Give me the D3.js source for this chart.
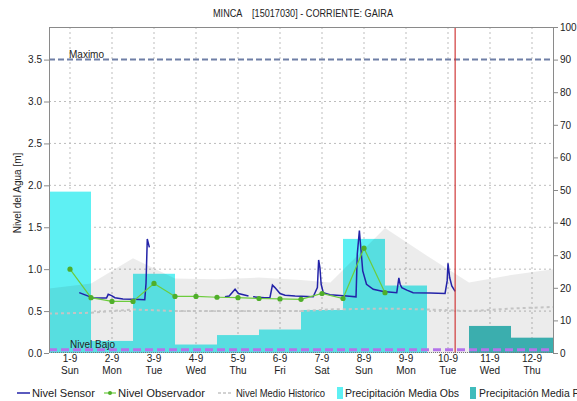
<!DOCTYPE html>
<html><head><meta charset="utf-8">
<script src="https://cdn.jsdelivr.net/npm/d3@7"></script>
<style>
html,body{margin:0;padding:0;background:#fff;}
svg{display:block;font-family:"Liberation Sans",Arial,sans-serif;}
</style></head>
<body><svg id="c" width="577" height="401"></svg>
<script>
// ---- data ----
const dayLabels = ["1-9","2-9","3-9","4-9","5-9","6-9","7-9","8-9","9-9","10-9","11-9","12-9"];
const weekdayLabels = ["Sun","Mon","Tue","Wed","Thu","Fri","Sat","Sun","Mon","Tue","Wed","Thu"];
const leftTicks = [0,0.5,1.0,1.5,2.0,2.5,3.0,3.5];
const rightTicks = [0,10,20,30,40,50,60,70,80,90,100];
// precipitation (mm) per day: observed days 1..10, forecast days 11..12
const precipObsDays = [1,2,3,4,5,6,7,8,9,10];
const precipObs = [49.5,3.7,24.3,2.6,5.5,7.2,13.2,35.0,20.7,0];
const precipFcstDays = [11,12];
const precipFcst = [8.3,4.7];
// sensor level (m); null = gap
const sensorTime = [1.22,1.48,1.55,1.87,1.91,1.99,2.07,2.26,2.51,2.78,2.81,2.84,2.86,2.89,null,
  4.69,4.79,4.93,5.01,5.25,null,5.36,5.64,5.76,5.82,5.88,6.0,6.12,6.36,6.79,6.89,6.92,6.95,6.98,7.03,7.19,7.59,7.81,7.84,7.89,7.92,7.97,8.06,8.22,8.46,8.78,8.83,8.86,8.90,9.02,9.17,9.57,9.93,9.98,10.0,10.04,10.09,10.17];
const sensorLevel = [0.72,0.67,0.655,0.655,0.70,0.685,0.66,0.645,0.64,0.635,0.83,1.36,1.32,1.26,null,
  0.67,0.68,0.76,0.71,0.68,null,0.67,0.66,0.66,0.81,0.78,0.71,0.69,0.68,0.67,0.78,1.11,1.02,0.82,0.72,0.695,0.68,0.67,1.18,1.46,1.28,0.98,0.82,0.76,0.735,0.72,0.895,0.82,0.78,0.75,0.72,0.715,0.71,0.86,1.07,0.90,0.80,0.735];
// observer level (m)
const obsTime = [1,1.5,2,2.5,3,3.5,4,4.5,5,5.5,6,6.5,7,7.5,8,8.5];
const obsLevel = [1.00,0.66,0.615,0.615,0.83,0.675,0.675,0.665,0.66,0.65,0.645,0.64,0.71,0.65,1.25,0.72];
// historic
const histTime = [0.5,1.5,2.5,3.5,4.5,5.5,6.5,7.2,8.5,9.5,10.5,11.5,12.5];
const histMax = [0.77,0.83,1.13,0.89,0.88,0.90,0.87,0.84,1.49,1.16,0.84,0.93,1.0];
const histMean = [0.47,0.48,0.52,0.50,0.50,0.50,0.50,0.52,0.53,0.52,0.50,0.53,0.55];
const levelMax = 3.5, levelLow = 0.04, nowDay = 10.17;
const title = "MINCA    [15017030] - CORRIENTE: GAIRA";

// ---- chart ----
const svg = d3.select("#c");
const L=49, R=553, T=27, B=353;
const x = d3.scaleLinear().domain([0.5,12.5]).range([L,R]);
const yL = d3.scaleLinear().domain([0, levelMax/0.9]).range([B,T]);
const yR = d3.scaleLinear().domain([0,100]).range([B,T]);

svg.append("defs").append("clipPath").attr("id","clip").append("rect")
  .attr("x",L).attr("y",T).attr("width",R-L).attr("height",B-T);
const g = svg.append("g").attr("clip-path","url(#clip)");

// gridlines
g.selectAll(".hg").data(leftTicks.filter(d=>d>0 && d<levelMax)).join("line")
  .attr("x1",L).attr("x2",R).attr("y1",d=>yL(d)).attr("y2",d=>yL(d))
  .attr("stroke","#bdbdbd").attr("stroke-dasharray","2,3");
g.selectAll(".vg").data(d3.range(1,13)).join("line")
  .attr("x1",d=>x(d)).attr("x2",d=>x(d)).attr("y1",T).attr("y2",B)
  .attr("stroke","#bdbdbd").attr("stroke-dasharray","2,3");

// bars
g.selectAll(".pb").data(precipObsDays.map((d,i)=>({d,v:precipObs[i]}))).join("rect")
  .attr("x",d=>x(d.d-0.5)).attr("width",d=>x(d.d+0.5)-x(d.d-0.5))
  .attr("y",d=>yR(d.v)).attr("height",d=>B-yR(d.v)).attr("fill","#5ef0f3");
g.selectAll(".pf").data(precipFcstDays.map((d,i)=>({d,v:precipFcst[i]}))).join("rect")
  .attr("x",d=>x(d.d-0.5)).attr("width",d=>x(d.d+0.5)-x(d.d-0.5))
  .attr("y",d=>yR(d.v)).attr("height",d=>B-yR(d.v)).attr("fill","#40bcbc");

// historic area
const hist = histTime.map((t,i)=>({t,max:histMax[i],mean:histMean[i]}));
g.append("path").datum(hist)
  .attr("d",d3.area().x(d=>x(d.t)).y0(B).y1(d=>yL(d.max)))
  .attr("fill","rgba(0,0,0,0.075)");
g.append("path").datum(hist)
  .attr("d",d3.line().x(d=>x(d.t)).y(d=>yL(d.mean)))
  .attr("fill","none").attr("stroke","#c4c4c4").attr("stroke-width",2).attr("stroke-dasharray","3,3");

// bottom dotted
svg.append("line").attr("x1",L).attr("x2",R).attr("y1",B-0.5).attr("y2",B-0.5)
  .attr("stroke","#777").attr("stroke-dasharray","1,1");

// limit lines
g.append("line").attr("x1",L).attr("x2",R).attr("y1",yL(levelMax)).attr("y2",yL(levelMax))
  .attr("stroke","#6f7fa6").attr("stroke-width",2).attr("stroke-dasharray","6,3");
g.append("line").attr("x1",L).attr("x2",R).attr("y1",yL(levelLow)).attr("y2",yL(levelLow))
  .attr("stroke","#b474ea").attr("stroke-width",3).attr("stroke-dasharray","8,4");
svg.append("text").attr("x",x(1)-1).attr("y",yL(levelMax)-2).attr("font-size",10).attr("fill","#222").text("Maximo");
svg.append("text").attr("x",x(1)).attr("y",yL(levelLow)-2).attr("font-size",10).attr("fill","#222").text("Nivel Bajo");

// sensor line
const sensor = sensorTime.map((t,i)=>({t,v:sensorLevel[i]}));
g.append("path").datum(sensor)
  .attr("d",d3.line().defined(d=>d.t!=null && d.v!=null).x(d=>x(d.t)).y(d=>yL(d.v)))
  .attr("fill","none").attr("stroke","#2323a8").attr("stroke-width",1.5);

// observer
const obs = obsTime.map((t,i)=>({t,v:obsLevel[i]}));
g.append("path").datum(obs)
  .attr("d",d3.line().x(d=>x(d.t)).y(d=>yL(d.v)))
  .attr("fill","none").attr("stroke","#6ccc3c").attr("stroke-width",1.2);
g.selectAll(".od").data(obs).join("circle")
  .attr("cx",d=>x(d.t)).attr("cy",d=>yL(d.v)).attr("r",2.6).attr("fill","#4fae2a");

// now line
g.append("line").attr("x1",x(nowDay)).attr("x2",x(nowDay)).attr("y1",T).attr("y2",B)
  .attr("stroke","#d03a3a").attr("stroke-width",1.2);

// frame
svg.append("line").attr("x1",L).attr("x2",R).attr("y1",T+0.5).attr("y2",T+0.5).attr("stroke","#8a8a8a");
svg.append("line").attr("x1",L+0.5).attr("x2",L+0.5).attr("y1",T).attr("y2",B).attr("stroke","#8a8a8a");
svg.append("line").attr("x1",R+0.5).attr("x2",R+0.5).attr("y1",T).attr("y2",B).attr("stroke","#8a8a8a");

// axes
const ax1 = svg.append("g").attr("transform",`translate(${L},0)`)
  .call(d3.axisLeft(yL).tickValues(leftTicks).tickFormat(d3.format(".1f")).tickSize(5).tickPadding(2));
const ax2 = svg.append("g").attr("transform",`translate(${R},0)`)
  .call(d3.axisRight(yR).tickValues(rightTicks).tickSize(5).tickPadding(2));
[ax1,ax2].forEach(a=>{
  a.select(".domain").remove();
  a.selectAll("line").attr("stroke","#8a8a8a");
  a.selectAll("text").attr("font-size",10).attr("font-family","Liberation Sans, Arial, sans-serif").attr("fill","#222");
});

// x labels
const xl = svg.append("g");
xl.selectAll(".xd").data(dayLabels).join("text")
  .attr("x",(d,i)=>x(i+1)).attr("y",362).attr("text-anchor","middle").attr("font-size",10).attr("fill","#222").text(d=>d);
xl.selectAll(".xw").data(weekdayLabels).join("text")
  .attr("x",(d,i)=>x(i+1)).attr("y",374).attr("text-anchor","middle").attr("font-size",10).attr("fill","#222").text(d=>d);

// title & y label
svg.append("text").attr("x",213).attr("y",17).attr("font-size",11)
  .attr("textLength",180).attr("lengthAdjust","spacingAndGlyphs")
  .attr("fill","#222").attr("xml:space","preserve").style("white-space","pre").text(title);
svg.append("text").attr("transform","translate(21,193) rotate(-90)").attr("text-anchor","middle")
  .attr("font-size",10).attr("fill","#222").text("Nivel del Agua [m]");

// legend
const lg = svg.append("g").attr("font-size",11).attr("fill","#222");
const ly = 393;
function ltext(xp, txt, len){
  const t = lg.append("text").attr("x",xp).attr("y",ly+4).text(txt);
  if(len) t.attr("textLength",len).attr("lengthAdjust","spacingAndGlyphs");
}
lg.append("line").attr("x1",17).attr("x2",30).attr("y1",ly).attr("y2",ly).attr("stroke","#2323a8").attr("stroke-width",1.5);
ltext(32,"Nivel Sensor",63);
lg.append("line").attr("x1",104).attr("x2",116).attr("y1",ly).attr("y2",ly).attr("stroke","#6ccc3c").attr("stroke-width",1.2);
lg.append("circle").attr("cx",110).attr("cy",ly).attr("r",2).attr("fill","#4fae2a");
ltext(118,"Nivel Observador",87);
lg.append("line").attr("x1",218).attr("x2",233).attr("y1",ly).attr("y2",ly).attr("stroke","#c4c4c4").attr("stroke-width",1.5).attr("stroke-dasharray","3,2");
ltext(236,"Nivel Medio Historico",89);
lg.append("rect").attr("x",337).attr("y",ly-6).attr("width",6).attr("height",12).attr("fill","#5ef0f3");
ltext(345,"Precipitación Media Obs",114);
lg.append("rect").attr("x",470).attr("y",ly-6).attr("width",6).attr("height",12).attr("fill","#40bcbc");
lg.append("text").attr("x",479).attr("y",ly+4).attr("font-size",10.4).text("Precipitación Media Pronosticada");
</script></body></html>
